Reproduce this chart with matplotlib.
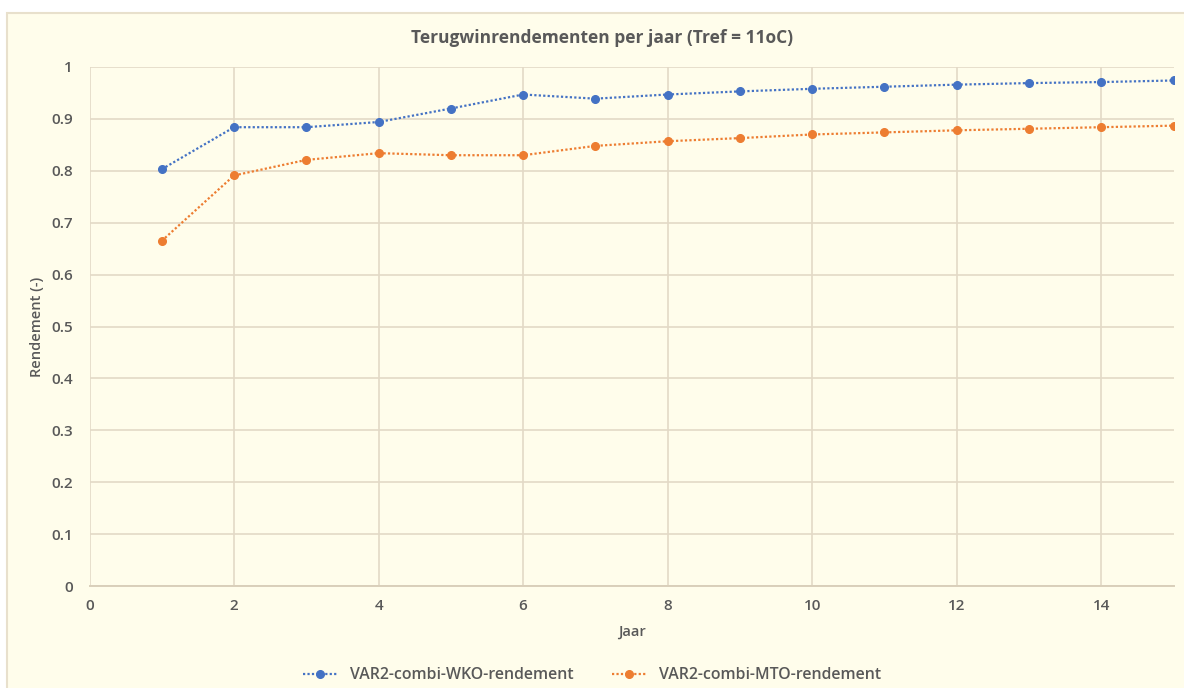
import matplotlib.pyplot as plt
from matplotlib.patches import Rectangle

# data
jaar = [1, 2, 3, 4, 5, 6, 7, 8, 9, 10, 11, 12, 13, 14, 15]
wko = [0.803, 0.884, 0.884, 0.894, 0.920, 0.947, 0.939, 0.947,
       0.953, 0.958, 0.962, 0.966, 0.969, 0.971, 0.974]
mto = [0.665, 0.791, 0.821, 0.834, 0.830, 0.830, 0.848, 0.857,
       0.863, 0.870, 0.874, 0.878, 0.881, 0.884, 0.887]
x_ticks = [0, 2, 4, 6, 8, 10, 12, 14]
y_ticks = [0, 0.1, 0.2, 0.3, 0.4, 0.5, 0.6, 0.7, 0.8, 0.9, 1]
y_ticklabels = ['0', '0.1', '0.2', '0.3', '0.4', '0.5', '0.6', '0.7', '0.8', '0.9', '1']

plt.rcParams['font.family'] = ['Open Sans', 'DejaVu Sans']
txt = '#595959'
cream = '#FFFDEB'
grid = '#E3DAC6'

fig = plt.figure(figsize=(11.84, 6.88), dpi=100)
fig.patch.set_facecolor('white')
# chart area background with border
fig.patches.append(Rectangle((7 / 1184, -0.01), 1.0, 1 - 13 / 688 + 0.01,
                             transform=fig.transFigure, facecolor=cream,
                             edgecolor='#E8E0CC', linewidth=1.5, zorder=-10))

ax = fig.add_axes([89.5 / 1184, 1 - 586 / 688, (1173.5 - 89.5) / 1184, (586 - 67) / 688])
ax.set_zorder(1)
ax.set_facecolor(cream)

ax.plot(jaar, wko, linestyle=(0, (1, 1)), color='#4472C4', linewidth=1.6, marker='o',
        markersize=5.5, label='VAR2-combi-WKO-rendement', zorder=3)
ax.plot(jaar, mto, linestyle=(0, (1, 1)), color='#ED7D31', linewidth=1.6, marker='o',
        markersize=5.5, label='VAR2-combi-MTO-rendement', zorder=3)

ax.set_xlim(0, 15)
ax.set_ylim(0, 1)
ax.set_xticks(x_ticks)
ax.set_yticks(y_ticks)
ax.set_yticklabels(y_ticklabels)
ax.grid(True, color=grid, linewidth=1.2)
ax.set_axisbelow(True)
for side in ['top', 'right', 'left']:
    ax.spines[side].set_visible(False)
ax.spines['bottom'].set_color('#D9CFBA')
ax.spines['bottom'].set_linewidth(1.4)
ax.tick_params(axis='y', length=0, colors=txt, labelsize=11, pad=12)
ax.tick_params(axis='x', length=0, colors=txt, labelsize=11, pad=9)
for lab in ax.get_xticklabels() + ax.get_yticklabels():
    lab.set_fontweight('semibold')

fig.text(602 / 1184, 1 - 38 / 688, 'Terugwinrendementen per jaar (Tref = 11oC)',
         fontsize=12.5, fontweight='bold', color=txt, ha='center', va='center')
ax.set_xlabel('Jaar', fontsize=10.5, fontweight='semibold', color=txt)
ax.set_ylabel('Rendement (-)', fontsize=10.5, fontweight='semibold', color=txt)
ax.xaxis.set_label_coords(0.5, (586 - 625) / 519)
ax.yaxis.set_label_coords((44 - 89.5) / 1084, 0.5)

leg = fig.legend(loc='lower center', bbox_to_anchor=(0.5, -0.014), ncol=2, frameon=False,
                 handlelength=2.2, columnspacing=2.4,
                 prop={'weight': 'semibold', 'size': 11.4})
for t in leg.get_texts():
    t.set_color(txt)

fig.savefig('out.png', dpi=100, facecolor=fig.get_facecolor())
